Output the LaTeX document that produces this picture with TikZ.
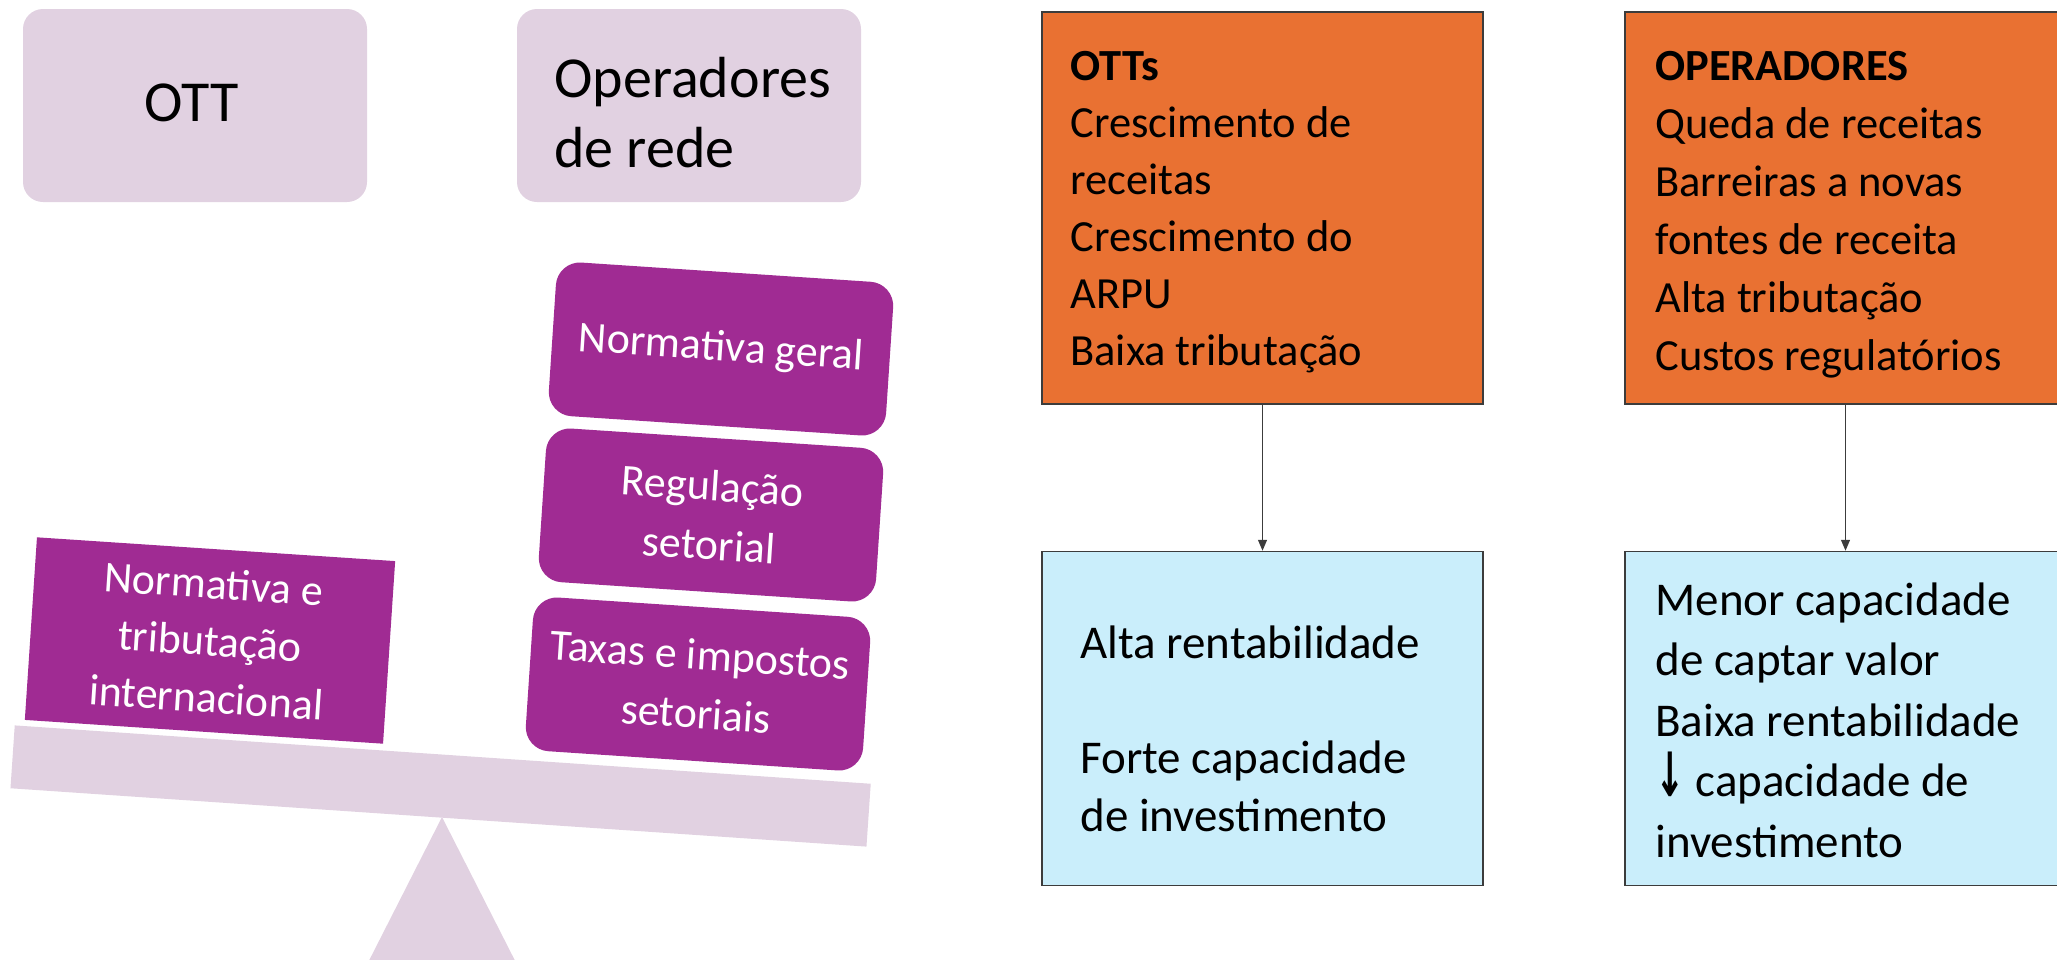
\documentclass[tikz,border=0pt]{standalone}
\usepackage{fontspec}
\usepackage{graphicx}
\setmainfont{Carlito}
\newfontfamily\arrowfont{DejaVu Sans}
\usetikzlibrary{arrows.meta}
\definecolor{mauve}{HTML}{E1D1E1}
\definecolor{purp}{HTML}{A02B93}
\definecolor{orng}{HTML}{E97132}
\definecolor{lblue}{HTML}{CAEEFB}
\definecolor{edgegray}{HTML}{3C3C3C}
\begin{document}
\begin{tikzpicture}[x=0.5pt,y=-0.5pt,
  topbox/.style={fill=mauve, draw=none, rounded corners=10pt, minimum width=172pt, minimum height=96.5pt, inner sep=0pt},
  toptext/.style={font=\fontsize{29}{35}\selectfont, inner sep=0pt, align=left},
  weightbox/.style={fill=purp, text=white, rounded corners=12pt, minimum width=169pt, minimum height=77pt, rotate=-3.8, align=center, inner sep=0pt, font=\fontsize{22}{29.5}\selectfont},
  intlbox/.style={fill=purp, text=white, minimum width=179.5pt, minimum height=91.5pt, rotate=-3.8, align=center, inner sep=0pt, font=\fontsize{22}{28.5}\selectfont},
  beambar/.style={fill=mauve, minimum width=429pt, minimum height=31.5pt, rotate=-3.9, inner sep=0pt},
  obox/.style={fill=orng, draw=edgegray, line width=0.75pt, minimum width=220.5pt, minimum height=196pt, inner sep=0pt},
  bbox/.style={fill=lblue, draw=edgegray, line width=0.75pt, minimum width=220.5pt, minimum height=167pt, inner sep=0pt},
  otext/.style={anchor=north west, inner sep=0pt, align=left},
  conn/.style={draw=edgegray, line width=0.6pt, -{Triangle[length=5.5pt,width=4.5pt]}},
]
\useasboundingbox (0,0) rectangle (2057,959);
\clip (0,0) rectangle (2057,959);

% top labels
\node[topbox] (ottbox) at (195,105.5) {};
\node[toptext, anchor=center] (ottlabel) at (192,102.5) {OTT};
\node[topbox] (opbox) at (689,105.5) {};
\node[toptext, anchor=north west] (oplabel) at (554,49) {\rule{0pt}{24pt}Operadores\\de rede};

% seesaw
\fill[mauve] (442,817) -- (349,1000) -- (535,1000) -- cycle;
\node[beambar] (beam) at (440.6,786) {};

% weights
\node[intlbox] (intl) at (210,640.5) {Normativa e\\tributação\\internacional};
\node[weightbox] (geral) at (721,349) {Normativa geral};
\node[weightbox] (setor) at (711,515) {Regulação\\setorial};
\node[weightbox] (taxas) at (698,684) {Taxas e impostos\\setoriais};

% flow boxes
\node[obox] (otts) at (1262.5,208) {};
\node[obox] (opers) at (1845.5,208) {};
\node[bbox] (ottsres) at (1262.5,718.5) {};
\node[bbox] (opersres) at (1845.5,718.5) {};

\node[otext, font=\fontsize{22.25}{28.5}\selectfont] (ottstext) at (1070,50)
  {\rule{0pt}{15pt}\textbf{OTTs}\\Crescimento de\\receitas\\Crescimento do\\ARPU\\Baixa tributação};
\node[otext, font=\fontsize{22.25}{29}\selectfont] (operstext) at (1655,50)
  {\rule{0pt}{15pt}\textbf{OPERADORES}\\Queda de receitas\\Barreiras a novas\\fontes de receita\\Alta tributação\\Custos regulatórios};
\node[otext, font=\fontsize{23.5}{29}\selectfont] (ottsrestext) at (1080,625)
  {\rule{0pt}{16pt}Alta rentabilidade\\[28.75pt]Forte capacidade\\de investimento};
\node[otext, font=\fontsize{23.5}{30.25}\selectfont] (opersrestext) at (1655,582)
  {\rule{0pt}{16pt}Menor capacidade\\de captar valor\\Baixa rentabilidade\\{\arrowfont\bfseries\scalebox{0.75}[1.3]{↓}}\ capacidade de\\investimento};

\draw[conn] (otts.south) -- (ottsres.north);
\draw[conn] (opers.south) -- (opersres.north);
\end{tikzpicture}
\end{document}
